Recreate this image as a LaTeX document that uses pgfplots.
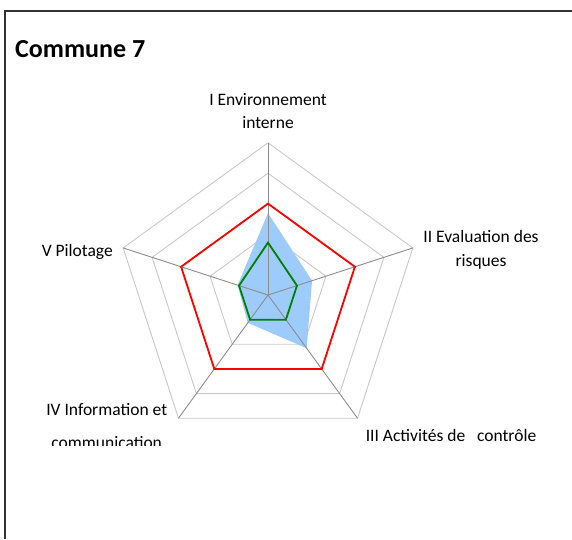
\documentclass[border=0pt]{standalone}
\usepackage{fontspec}
\setmainfont{Carlito}
\usepackage{pgfplots}
\pgfplotsset{compat=1.18}
\definecolor{ringgray}{HTML}{C8C8C8}
\definecolor{spokegray}{HTML}{8C8C8C}
\definecolor{areablue}{HTML}{9DCCFC}
\definecolor{frame}{HTML}{333333}

\begin{document}
\begin{tikzpicture}[x=1pt,y=-1pt]
\path[use as bounding box] (0,0) rectangle (572,539);
% chart frame (only top and left edges are visible)
\draw[frame,line width=1.3pt] (5,539) -- (5,11) -- (572,11);
\node[anchor=base west,inner sep=0pt,font=\fontsize{26}{30}\selectfont\bfseries] at (15,57) {Commune 7};

% category labels
\begin{scope}[every node/.style={inner sep=0pt,font=\fontsize{17.5}{20}\selectfont}]
\node[anchor=base] at (268,105) {I Environnement};
\node[anchor=base] at (268,128.5) {interne};
\node[anchor=base] at (481,242.7) {II Evaluation des};
\node[anchor=base] at (481,266.7) {risques};
\node[anchor=base] at (451,441) {III Activités de\ \ \ contrôle};
\node[anchor=base] at (106.7,415) {IV Information\ et};
\node[anchor=base east] at (113,256.5) {V Pilotage};
\begin{scope}
\clip (0,0) rectangle (572,445.7);
\node[anchor=base] at (106.7,448) {communication};
\end{scope}
\end{scope}

\begin{axis}[at={(268pt,-295pt)},anchor=center,
  width=304.6pt,height=304.6pt,scale only axis,
  xmin=-5,xmax=5,ymin=-5,ymax=5,
  hide axis,clip=false,data cs=polar]
  % pentagon rings
  \foreach \r in {1,2,3,4,5}{
    \addplot[ringgray,line width=0.9pt] coordinates {(90,\r)(18,\r)(-54,\r)(-126,\r)(162,\r)(90,\r)};
  }
  % series: filled area
  \addplot[draw=none,fill=areablue] coordinates {(90,2.69)(18,1.52)(-54,2.16)(-126,1.13)(162,1.05)(90,2.69)} -- cycle;
  % spokes
  \addplot[spokegray,line width=0.9pt] coordinates {(90,0)(90,5)};
  \addplot[spokegray,line width=0.9pt] coordinates {(18,0)(18,5)};
  \addplot[spokegray,line width=0.9pt] coordinates {(-54,0)(-54,5)};
  \addplot[spokegray,line width=0.9pt] coordinates {(-126,0)(-126,5)};
  \addplot[spokegray,line width=0.9pt] coordinates {(162,0)(162,5)};
  % target level
  \addplot[red,line width=1.8pt] coordinates {(90,3)(18,3)(-54,3)(-126,3)(162,3)(90,3)} -- cycle;
  % green series
  \addplot[green!50!black,line width=1.8pt] coordinates {(90,1.72)(18,1)(-54,1)(-126,1)(162,1)(90,1.72)} -- cycle;
\end{axis}
\end{tikzpicture}
\end{document}
